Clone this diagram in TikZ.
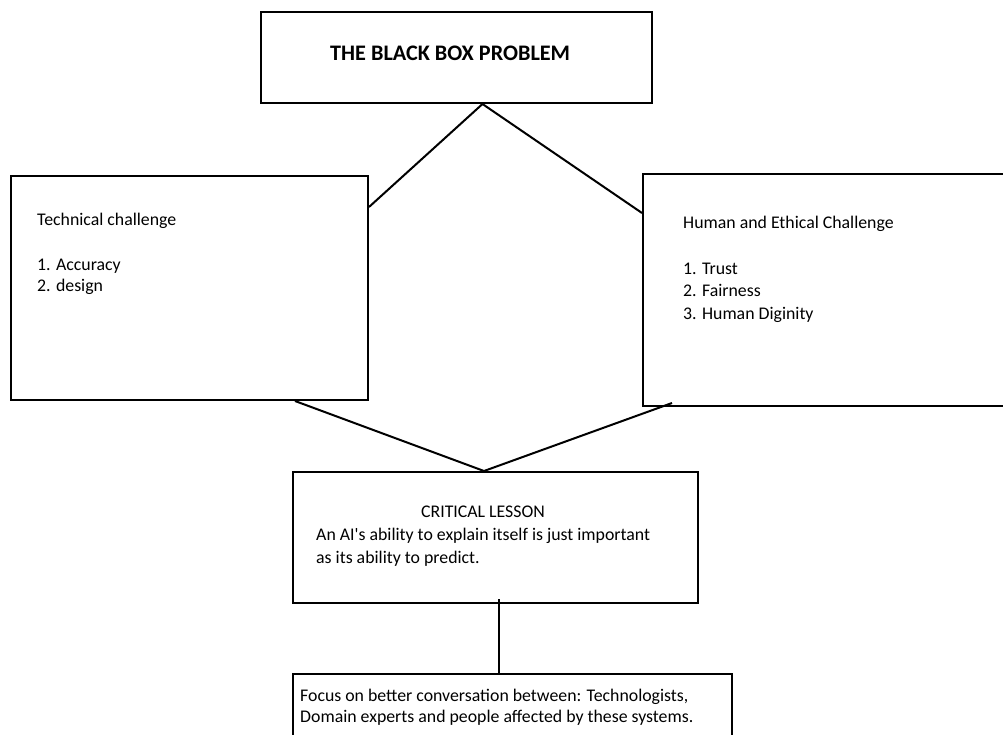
\documentclass[tikz,border=0pt]{standalone}
\usepackage{fontspec}
\setmainfont{Carlito}
\begin{document}
\begin{tikzpicture}[x=1pt,y=-1pt,
  box/.style={draw=black,line width=2pt,rectangle,anchor=north west,inner sep=0pt},
  txt/.style={anchor=base west,inner sep=0pt,font=\fontsize{17.8}{21}\selectfont},
  conn/.style={draw=black,line width=2pt}]
\useasboundingbox[fill=white] (0,0) rectangle (1003,734);
% boxes
\node[box,minimum width=391pt,minimum height=91pt] (top) at (260,11) {};
\node[box,minimum width=357pt,minimum height=224pt] (left) at (10,175) {};
\node[box,minimum width=400pt,minimum height=232pt] (right) at (642,173) {};
\node[box,minimum width=405pt,minimum height=131pt] (crit) at (292,471) {};
\node[box,minimum width=439pt,minimum height=100pt] (bottom) at (292,673) {};
% texts
\node[txt,font=\fontsize{22.2}{26}\selectfont\bfseries] (t0) at (330,60) {THE BLACK BOX PROBLEM};
\node[txt] (l1) at (37,225) {Technical challenge};
\node[txt] (l2) at (37,270) {1. Accuracy};
\node[txt] (l3) at (37,291) {2. design};
\node[txt] (r1) at (683,228) {Human and Ethical Challenge};
\node[txt] (r2) at (683,274) {1. Trust};
\node[txt] (r3) at (683,296.5) {2. Fairness};
\node[txt] (r4) at (683,319) {3. Human Diginity};
\node[txt,anchor=base] (c1) at (483,517) {CRITICAL LESSON};
\node[txt] (c2) at (316,540.5) {An AI\textquotesingle s ability to explain itself is just important};
\node[txt] (c3) at (316,563) {as its ability to predict.};
\node[txt] (b1) at (300,701) {Focus on better conversation between: Technologists,};
\node[txt] (b2) at (300,722) {Domain experts and people affected by these systems.};
% connectors
\coordinate (apex) at ([xshift=26pt]top.south);
\draw[conn] ([yshift=-32pt]left.north east) -- (apex) -- ([yshift=-40pt]right.north west);
\coordinate (cap) at ([xshift=-11.5pt]crit.north);
\draw[conn] ([xshift=285pt]left.south west) -- (cap) -- ([xshift=30pt,yshift=4pt]right.south west);
\coordinate (vs) at ([xshift=3pt,yshift=5pt]crit.south);
\draw[conn] (vs) -- (vs |- bottom.north);
\end{tikzpicture}
\end{document}
